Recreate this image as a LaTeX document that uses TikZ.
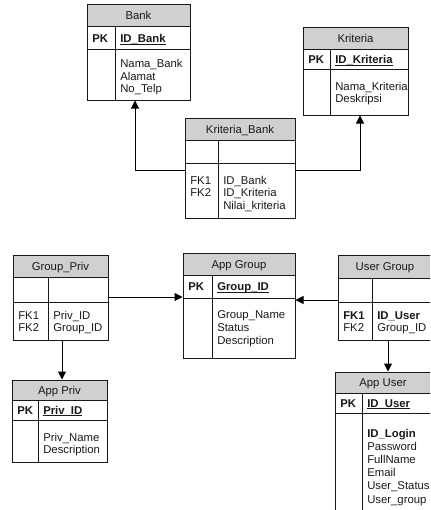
\documentclass[tikz,border=0pt]{standalone}
\usepackage{fontspec}
\setmainfont{Liberation Sans}
\usetikzlibrary{arrows.meta,fit}
\definecolor{hdrgray}{RGB}{208,208,208}
\definecolor{inkgray}{RGB}{25,25,25}
\newcommand\ulx[1]{\setbox0\hbox{#1}\rlap{\rule[-1.5pt]{\wd0}{0.7pt}}\box0}
\tikzset{
  tbl/.style={draw=inkgray, inner sep=0pt, line width=0.75pt},
  txt/.style={font=\fontsize{8.5}{10}\selectfont, inner sep=0pt, text=inkgray},
  ttl/.style={txt, anchor=base},
  fld/.style={txt, anchor=base west},
  conn/.style={draw=black, line width=0.75pt, -{Triangle[length=6pt,width=6pt]}},
}
% name, x1, y1, x2, y2, yh, yk, xd, title
\newcommand\ertable[9]{%
  \fill[hdrgray] (#2,#3) rectangle (#4,#6);
  \node[tbl, fit={(#2,#3) (#4,#5)}] (#1) {};
  \draw[inkgray, line width=0.75pt] (#2,#6) -- (#4,#6);
  \draw[inkgray, line width=0.75pt] (#2,#7) -- (#4,#7);
  \draw[inkgray, line width=0.75pt] (#8,#6) -- (#8,#5);
  \node[ttl] (#1-title) at ({(#2+#4)/2},{(#3+#6)/2+4}) {#9};
}
% x, first baseline, prefix, spacing, list
\newcommand\flist[5]{\foreach \t [count=\i] in {#5}{\node[fld] (#3-\i) at (#1,{#2+#4*(\i-1)}) {\t};}}
\begin{document}
\begin{tikzpicture}[x=0.75pt,y=-0.75pt]
\useasboundingbox (0,0) rectangle (430,510);
\clip (0,0) rectangle (430,510);

% Bank
\ertable{bank}{87}{5}{190}{100}{27}{50}{115}{Bank}
\node[fld] (bank-pk) at (92,42.5) {\bfseries PK};
\node[fld] (bank-key) at (120,42.5) {\bfseries\ulx{ID\_Bank}};
\flist{120}{68}{bankf}{12.5}{Nama\_Bank,Alamat,No\_Telp}

% Kriteria
\ertable{kri}{303}{28}{408}{115}{50}{70}{330}{Kriteria}
\node[fld] (kri-pk) at (308,64) {\bfseries PK};
\node[fld] (kri-key) at (335,64) {\bfseries\ulx{ID\_Kriteria}};
\flist{335}{90}{krif}{12.5}{Nama\_Kriteria,Deskripsi}

% Kriteria_Bank
\ertable{kb}{185}{118}{295}{218}{140}{163}{218}{Kriteria\_Bank}
\flist{190}{184}{kbk}{12.5}{FK1,FK2}
\flist{223}{184}{kbf}{12.5}{ID\_Bank,ID\_Kriteria,Nilai\_kriteria}

% Group_Priv
\ertable{gp}{13}{255}{108}{340}{277}{302}{48}{Group\_Priv}
\flist{18}{319}{gpk}{12.5}{FK1,FK2}
\flist{53}{319}{gpf}{12.5}{Priv\_ID,Group\_ID}

% App Group
\ertable{ag}{183}{253}{295}{358}{275}{298}{212}{App Group}
\node[fld] (ag-pk) at (188,290.5) {\bfseries PK};
\node[fld] (ag-key) at (217,290.5) {\bfseries\ulx{Group\_ID}};
\flist{217}{318}{agf}{13}{Group\_Name,Status,Description}

% User Group
\ertable{ug}{338}{255}{432}{340}{278}{302}{372}{User Group}
\flist{343}{319}{ugk}{12.5}{\textbf{FK1},FK2}
\flist{377}{319}{ugf}{12.5}{\textbf{ID\_User},Group\_ID}

% App Priv
\ertable{ap}{12}{380}{107}{462}{400}{420}{38}{App Priv}
\node[fld] (ap-pk) at (17,414) {\bfseries PK};
\node[fld] (ap-key) at (43,414) {\bfseries\ulx{Priv\_ID}};
\flist{43}{441}{apf}{12.5}{Priv\_Name,Description}

% App User
\ertable{au}{335}{372}{431}{520}{393}{413}{362}{App User}
\node[fld] (au-pk) at (340,407) {\bfseries PK};
\node[fld] (au-key) at (367,407) {\bfseries\ulx{ID\_User}};
\flist{367}{437}{auf}{13.2}{\textbf{ID\_Login},Password,FullName,Email,User\_Status,User\_group}

% connectors
\draw[conn] (kb.west |- 0,170) -| (bank.south -| 135,0);
\draw[conn] (kb.east |- 0,170) -| (kri.south -| 360,0);
\draw[conn] (gp.east |- 0,297) -- (ag.west |- 0,297);
\draw[conn] (ug.west |- 0,300) -- (ag.east |- 0,300);
\draw[conn] (gp.south -| 62,0) -- (ap.north -| 62,0);
\draw[conn] (ug.south -| 388,0) -- (au.north -| 388,0);
\end{tikzpicture}
\end{document}
